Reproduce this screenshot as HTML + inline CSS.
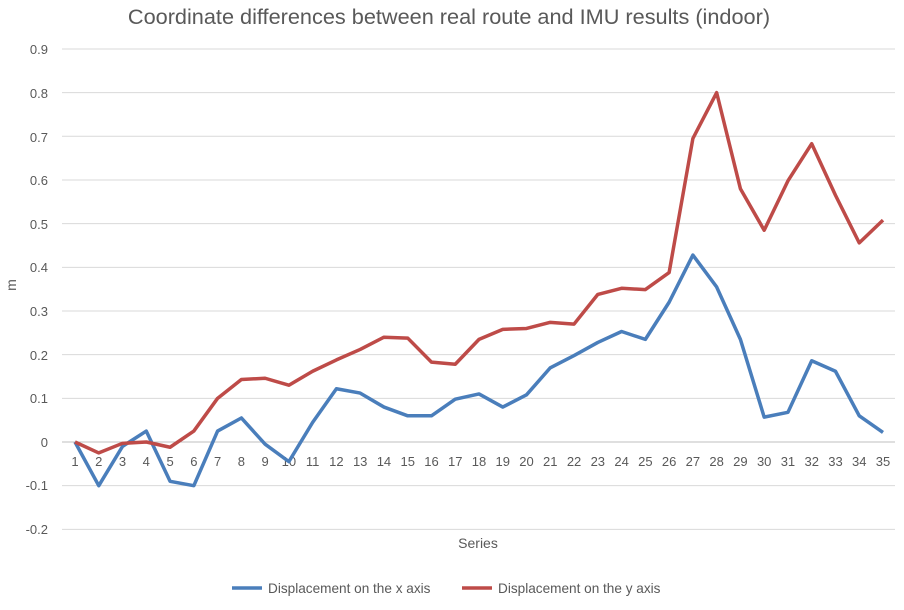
<!DOCTYPE html>
<html><head><meta charset="utf-8"><style>
body{margin:0;background:#fff;}
svg text{font-family:"Liberation Sans",sans-serif;fill:#595959;}
</style></head><body>
<svg id="s" width="904" height="605" xmlns="http://www.w3.org/2000/svg">
<rect width="904" height="605" fill="#fff"/>
<text x="449" y="24" font-size="21.7" text-anchor="middle">Coordinate differences between real route and IMU results (indoor)</text>
<g id="grid" stroke="#d9d9d9" stroke-width="1"></g>
<g font-size="13" text-anchor="end">
<text x="48" y="54">0.9</text><text x="48" y="98">0.8</text><text x="48" y="142">0.7</text>
<text x="48" y="185">0.6</text><text x="48" y="229">0.5</text><text x="48" y="272">0.4</text>
<text x="48" y="316">0.3</text><text x="48" y="360">0.2</text><text x="48" y="403">0.1</text>
<text x="48" y="447">0</text><text x="48" y="490">-0.1</text><text x="48" y="534">-0.2</text>
</g>
<g id="cats" font-size="13" text-anchor="middle"></g>
<text x="16" y="285" font-size="14" text-anchor="middle" transform="rotate(-90 16 285)">m</text>
<text x="478" y="548" font-size="14" text-anchor="middle">Series</text>
<line x1="232" y1="588" x2="262" y2="588" stroke="#4a7ebb" stroke-width="3.5"/>
<text x="268" y="593" font-size="13.6">Displacement on the x axis</text>
<line x1="462" y1="588" x2="492" y2="588" stroke="#be4b48" stroke-width="3.5"/>
<text x="498" y="593" font-size="13.6">Displacement on the y axis</text>
<polyline id="px" fill="none" stroke="#4a7ebb" stroke-width="3.5" stroke-linejoin="round"/>
<polyline id="py" fill="none" stroke="#be4b48" stroke-width="3.5" stroke-linejoin="round"/>
</svg>
<script>
var X=[0,-0.1,-0.01,0.025,-0.09,-0.1,0.025,0.055,-0.005,-0.045,0.045,0.122,0.112,0.08,0.06,0.06,0.098,0.11,0.08,0.108,0.17,0.198,0.228,0.253,0.235,0.32,0.428,0.355,0.235,0.057,0.068,0.186,0.162,0.06,0.022];
var Y=[0,-0.025,-0.003,0,-0.012,0.025,0.1,0.143,0.146,0.13,0.162,0.188,0.212,0.24,0.238,0.183,0.178,0.235,0.258,0.26,0.274,0.27,0.338,0.352,0.349,0.388,0.695,0.8,0.58,0.485,0.598,0.683,0.565,0.456,0.508];
function px(i){return 75+i*808/34}function py(v){return 442-v*436.7}
var ns="http://www.w3.org/2000/svg",g=document.getElementById("grid"),c=document.getElementById("cats");
for(var k=-2;k<=9;k++){var l=document.createElementNS(ns,"line");var y=py(k/10);l.setAttribute("x1",62);l.setAttribute("x2",895);l.setAttribute("y1",y);l.setAttribute("y2",y);if(k==0)l.setAttribute("stroke","#bfbfbf");g.appendChild(l);}
for(var i=0;i<35;i++){var t=document.createElementNS(ns,"text");t.setAttribute("x",px(i));t.setAttribute("y",466);t.textContent=i+1;c.appendChild(t);}
document.getElementById("px").setAttribute("points",X.map(function(v,i){return px(i)+","+py(v)}).join(" "));
document.getElementById("py").setAttribute("points",Y.map(function(v,i){return px(i)+","+py(v)}).join(" "));
</script>
</body></html>
